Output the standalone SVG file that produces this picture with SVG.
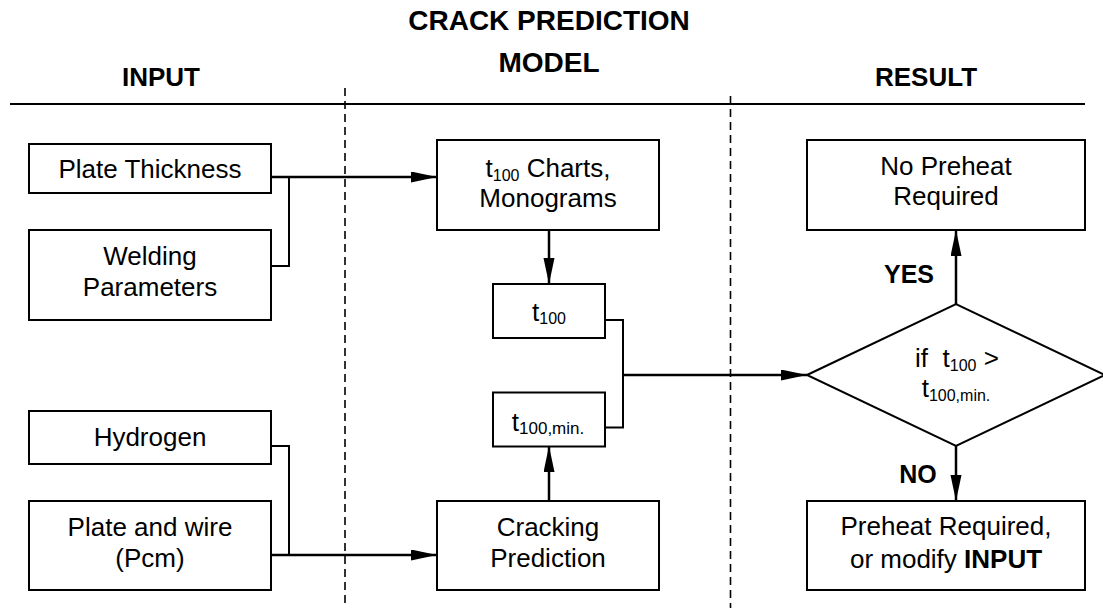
<svg xmlns="http://www.w3.org/2000/svg" width="1103" height="608" viewBox="0 0 1103 608">
<defs>
<style>
.box{fill:#fff;stroke:#000;stroke-width:2}
.t{font-family:"Liberation Sans",Arial,sans-serif;font-size:26px;fill:#000;text-anchor:middle}
.b{font-family:"Liberation Sans",Arial,sans-serif;font-weight:bold;fill:#000;text-anchor:middle}
.s{font-size:16px}
.arr{fill:none;stroke:#000;stroke-width:2.5}
.thin{fill:none;stroke:#000;stroke-width:2}
.dash{fill:none;stroke:#000;stroke-width:1.6;stroke-dasharray:8 5}
</style>
<marker id="ah" markerUnits="userSpaceOnUse" markerWidth="27" markerHeight="12" refX="26" refY="5.5" orient="auto">
<path d="M0,0 L26,5.5 L0,11 Z" fill="#000"/>
</marker>
</defs>
<g id="headers">
<text class="b" x="549" y="30" font-size="28">CRACK PREDICTION</text>
<text class="b" x="549" y="72" font-size="28">MODEL</text>
<text class="b" x="161" y="86" font-size="26">INPUT</text>
<text class="b" x="926" y="86" font-size="26">RESULT</text>
<line x1="10" y1="104" x2="1085" y2="104" stroke="#000" stroke-width="2"/>
<line class="dash" x1="345" y1="88" x2="345" y2="608"/>
<line class="dash" x1="730.5" y1="96" x2="730.5" y2="608"/>
</g>
<g id="connectors">
<path class="arr" d="M271,177 H437" marker-end="url(#ah)"/>
<path class="thin" d="M271,266 H289 V177"/>
<path class="arr" d="M549,230 V284" marker-end="url(#ah)"/>
<path class="thin" d="M605,320 H623 V427.5 H605"/>
<path class="arr" d="M623,375 H807" marker-end="url(#ah)"/>
<path class="arr" d="M549,501 V446" marker-end="url(#ah)"/>
<path class="thin" d="M271,446 H289 V555"/>
<path class="arr" d="M271,555 H437" marker-end="url(#ah)"/>
<path class="arr" d="M956,304 V230" marker-end="url(#ah)"/>
<path class="arr" d="M956,446 V501" marker-end="url(#ah)"/>
<text class="b" x="909" y="283" font-size="25">YES</text>
<text class="b" x="918" y="483" font-size="25">NO</text>
</g>
<g id="plate-thickness">
<rect class="box" x="29" y="144" width="242" height="49"/>
<text class="t" x="150" y="178">Plate Thickness</text>
</g>
<g id="welding-parameters">
<rect class="box" x="29" y="230" width="242" height="90"/>
<text class="t" x="150" y="265">Welding</text>
<text class="t" x="150" y="296">Parameters</text>
</g>
<g id="hydrogen">
<rect class="box" x="29" y="411" width="242" height="53"/>
<text class="t" x="150" y="446">Hydrogen</text>
</g>
<g id="plate-wire">
<rect class="box" x="29" y="501" width="242" height="89"/>
<text class="t" x="150" y="536">Plate and wire</text>
<text class="t" x="150" y="567">(Pcm)</text>
</g>
<g id="t100-charts">
<rect class="box" x="437" y="140" width="222" height="90"/>
<text class="t" x="548" y="177">t<tspan class="s" dy="4">100</tspan><tspan dy="-4"> Charts,</tspan></text>
<text class="t" x="548" y="207">Monograms</text>
</g>
<g id="t100">
<rect class="box" x="493" y="284" width="112" height="54"/>
<text class="t" x="549" y="321">t<tspan class="s" dy="3">100</tspan></text>
</g>
<g id="t100min">
<rect class="box" x="493" y="392.5" width="112" height="54"/>
<text class="t" x="548" y="431" font-size="28">t<tspan font-size="17" dy="3">100,min.</tspan></text>
</g>
<g id="cracking-prediction">
<rect class="box" x="437" y="501" width="222" height="89"/>
<text class="t" x="548" y="536">Cracking</text>
<text class="t" x="548" y="567">Prediction</text>
</g>
<g id="no-preheat">
<rect class="box" x="807" y="140" width="278" height="90"/>
<text class="t" x="946" y="175">No Preheat</text>
<text class="t" x="946" y="205">Required</text>
</g>
<g id="decision">
<polygon points="807,375 956,304 1105,375 956,446" fill="#fff" stroke="#000" stroke-width="2"/>
<text class="t" x="957" y="367">if&#160; t<tspan class="s" dy="4">100</tspan><tspan dy="-4"> &gt;</tspan></text>
<text class="t" x="956" y="397">t<tspan class="s" dy="4">100,min.</tspan></text>
</g>
<g id="preheat-required">
<rect class="box" x="807" y="501" width="278" height="89"/>
<text class="t" x="946" y="535">Preheat Required,</text>
<text class="t" x="946" y="568">or modify <tspan font-weight="bold">INPUT</tspan></text>
</g>
</svg>
